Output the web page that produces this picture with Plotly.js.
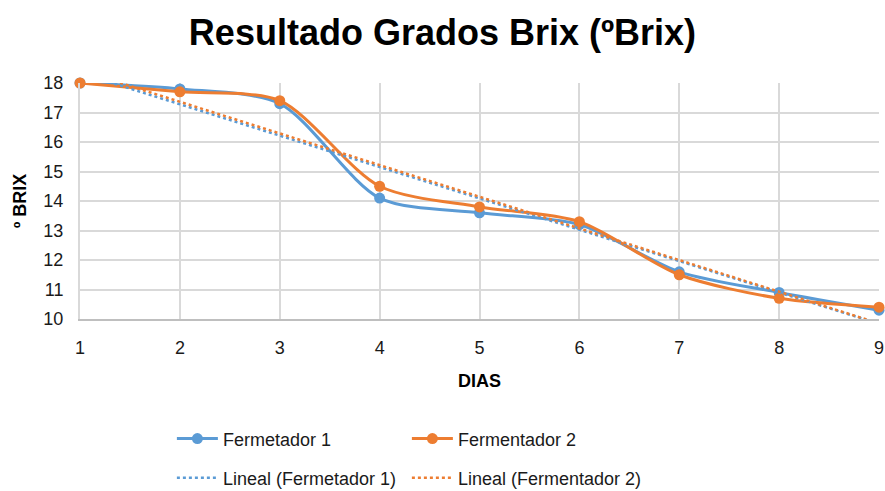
<!DOCTYPE html>
<html>
<head>
<meta charset="utf-8">
<script src="https://cdn.plot.ly/plotly-3.0.1.min.js"></script>
<style>html,body{margin:0;padding:0;background:#fff;}#chart{width:885px;height:491px;}</style>
</head>
<body>
<div id="chart"></div>
<script>
const dias = [1, 2, 3, 4, 5, 6, 7, 8, 9];
const fermentador1 = [18, 17.8, 17.3, 14.1, 13.6, 13.2, 11.6, 10.9, 10.3];
const fermentador2 = [18, 17.7, 17.4, 14.5, 13.8, 13.3, 11.5, 10.7, 10.4];
const yTicks = [10, 11, 12, 13, 14, 15, 16, 17, 18];
const xTicks = [1, 2, 3, 4, 5, 6, 7, 8, 9];

function linearFit(x, y) {
  const n = x.length;
  const mx = x.reduce((a, b) => a + b, 0) / n;
  const my = y.reduce((a, b) => a + b, 0) / n;
  let sxy = 0, sxx = 0;
  for (let i = 0; i < n; i++) { sxy += (x[i] - mx) * (y[i] - my); sxx += (x[i] - mx) ** 2; }
  const m = sxy / sxx, b = my - m * mx;
  return x.map(v => m * v + b);
}

const blue = '#5B9BD5', orange = '#ED7D31';
const font = '"Liberation Sans", Arial, sans-serif';

const traces = [
  {x: dias, y: fermentador1, name: 'Fermetador 1', mode: 'lines+markers', cliponaxis: false,
   line: {color: blue, width: 3, shape: 'spline', smoothing: 0.8}, marker: {color: blue, size: 11}, legend: 'legend'},
  {x: dias, y: fermentador2, name: 'Fermentador 2', mode: 'lines+markers', cliponaxis: false,
   line: {color: orange, width: 3, shape: 'spline', smoothing: 0.8}, marker: {color: orange, size: 11}, legend: 'legend'},
  {x: dias, y: linearFit(dias, fermentador1), name: 'Lineal (Fermetador 1)', mode: 'lines',
   line: {color: blue, width: 2.5, dash: 'dot'}, legend: 'legend2'},
  {x: dias, y: linearFit(dias, fermentador2), name: 'Lineal (Fermentador 2)', mode: 'lines',
   line: {color: orange, width: 2.5, dash: 'dot'}, legend: 'legend2'}
];

const legendCommon = {orientation: 'h', xanchor: 'left', yanchor: 'middle', entrywidth: 179, entrywidthmode: 'pixels',
  itemwidth: 41, font: {family: font, size: 18, color: '#1a1a1a'}, bgcolor: 'rgba(0,0,0,0)', traceorder: 'normal'};

const layout = {
  width: 885, height: 491,
  margin: {l: 80, r: 6, t: 83, b: 172, autoexpand: false},
  paper_bgcolor: '#fff', plot_bgcolor: '#fff',
  title: {text: '<b>Resultado Grados Brix (ºBrix)</b>', x: 0.5, xanchor: 'center', y: 0.933, yanchor: 'middle',
    font: {family: font, size: 36, color: '#000'}},
  xaxis: {range: [1, 9], tickvals: xTicks, ticktext: xTicks.map(String), showgrid: true, gridcolor: '#d9d9d9', gridwidth: 2,
    showline: true, linecolor: '#bfbfbf', linewidth: 2, zeroline: false, ticks: '', ticklabelstandoff: 11,
    tickfont: {family: font, size: 18, color: '#1a1a1a'},
    title: {text: '<b>DIAS</b>', font: {family: font, size: 18, color: '#000'}, standoff: 18}},
  yaxis: {range: [10, 18], tickvals: yTicks, showgrid: true, gridcolor: '#d9d9d9', gridwidth: 2,
    showline: true, linecolor: '#d9d9d9', linewidth: 2, zeroline: false, ticks: '', ticklabelstandoff: 11,
    tickfont: {family: font, size: 18, color: '#1a1a1a'},
    title: {text: '<b>º BRIX</b>', font: {family: font, size: 18, color: '#000'}, standoff: 12}},
  legend: Object.assign({}, legendCommon, {x: 0.115, y: -0.508}),
  legend2: Object.assign({}, legendCommon, {x: 0.115, y: -0.674}),
  showlegend: true
};

Plotly.newPlot('chart', traces, layout, {displayModeBar: false, responsive: false});
</script>
</body>
</html>
